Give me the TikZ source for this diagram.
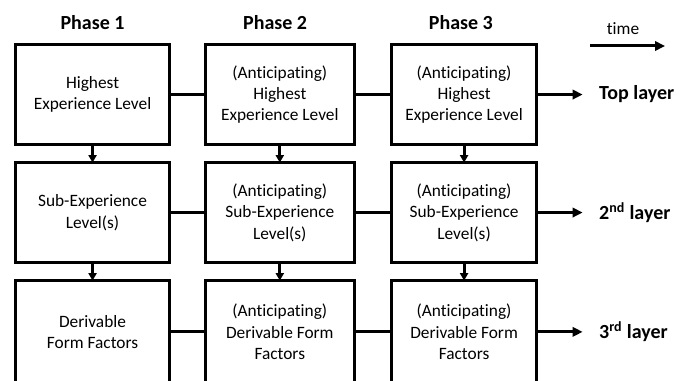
\documentclass[tikz,border=0pt]{standalone}
\usepackage{fontspec}
\setmainfont{Carlito}[Ligatures=NoCommon]
\usetikzlibrary{arrows.meta,positioning}

\begin{document}
\begin{tikzpicture}
		[node distance=13.5pt and 27pt, >={Triangle[length=7.5pt,width=7pt]},
		 line width=2.25pt,
		 box/.style = {draw, shape=rectangle, align=center, outer sep=0pt,
		 				minimum width=111.4pt, minimum height=75pt,
		 				font=\fontsize{13}{16}\selectfont},
		 wide/.style = {minimum width=115.5pt},
		 narrow/.style = {minimum width=109pt},
		 tall/.style = {minimum height=77pt},
		 phase/.style = {font=\fontsize{15}{18}\selectfont\bfseries},
		 layer/.style = {font=\fontsize{15}{18}\selectfont\bfseries},
		 dn/.style = {-{Triangle[length=5.5pt,width=6pt]}},
		]

		\useasboundingbox (0,0) rectangle (518.25pt,-285.75pt);

		\node [box, wide] at (69.4pt,-70.9pt)	(p1top)	{Highest\\ Experience Level};
		\node [box, wide, below=of p1top]		(p1sub)	{Sub-Experience\\ Level(s)};
		\node [box, wide, tall, below=of p1sub]	(p1form)	{Derivable\\ Form Factors};

		\node [box, right=of p1top]			(p2top)	{(Anticipating)\\ Highest\\ Experience Level};
		\node [box, below=of p2top]			(p2sub)	{(Anticipating)\\ Sub-Experience\\ Level(s)};
		\node [box, tall, below=of p2sub]		(p2form)	{(Anticipating)\\ Derivable Form\\ Factors};

		\node [box, narrow, right=28pt of p2top]	(p3top)	{(Anticipating)\\ Highest\\ Experience Level};
		\node [box, narrow, below=of p3top]		(p3sub)	{(Anticipating)\\ Sub-Experience\\ Level(s)};
		\node [box, narrow, tall, below=of p3sub]	(p3form)	{(Anticipating)\\ Derivable Form\\ Factors};

		\node [phase, above=6.75pt of p1top]			(ph1)	{Phase 1};
		\node [phase, above=6.75pt of p2top, xshift=-3.5pt]	(ph2)	{Phase 2};
		\node [phase, above=6.75pt of p3top, xshift=-2.4pt]	(ph3)	{Phase 3};

		\node [layer, right=42.4pt of p3top]	(ltop)	{Top layer};
		\node [layer, right=42.4pt of p3sub]	(lsub)	{2\textsuperscript{nd} layer};
		\node [layer, right=42.4pt of p3form]	(lform)	{3\textsuperscript{rd} layer};

		\coordinate (tfrom) at (442.5pt,-34.5pt);
		\coordinate (tto)   at (498.75pt,-34.5pt);
		\node [font=\fontsize{13}{16}\selectfont] at (467.25pt,-21.4pt) (time) {time};

		\draw (p1top) -- (p2top);
		\draw (p2top) -- (p3top);
		\draw (p1sub) -- (p2sub);
		\draw (p2sub) -- (p3sub);
		\draw (p1form) -- (p2form);
		\draw (p2form) -- (p3form);

		\draw[dn] (p1top) -- (p1sub);
		\draw[dn] (p1sub) -- (p1form);
		\draw[dn] (p2top) -- (p2sub);
		\draw[dn] (p2sub) -- (p2form);
		\draw[dn] (p3top) -- (p3sub);
		\draw[dn] (p3sub) -- (p3form);

		\draw[->, shorten >=8pt] (p3top) -- (ltop);
		\draw[->, shorten >=8pt] (p3sub) -- (lsub);
		\draw[->, shorten >=8pt] (p3form) -- (lform);
		\draw[->] (tfrom) -- (tto);

\end{tikzpicture}
\end{document}
